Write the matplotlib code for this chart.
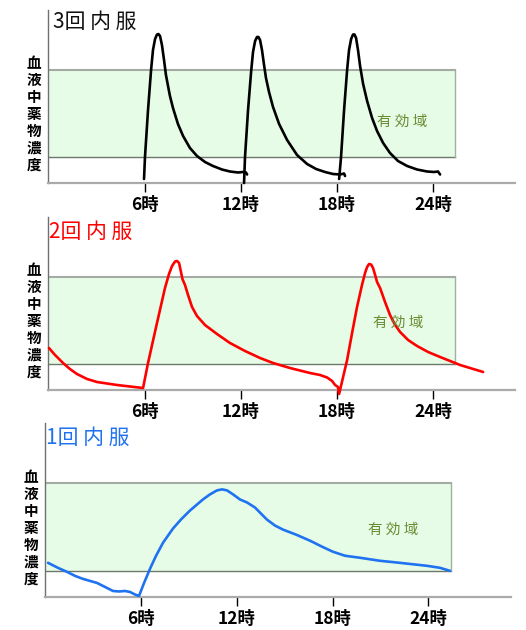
import matplotlib
matplotlib.use("Agg")
import matplotlib.pyplot as plt
from matplotlib.patches import Rectangle

plt.rcParams['font.family'] = ['Noto Sans CJK JP', 'DejaVu Sans']

# ---------------- data ----------------
tick_hours = [6, 12, 18, 24]
tick_labels = ["6時", "12時", "18時", "24時"]
ylabel_text = "血液中薬物濃度"
zone_label = "有 効 域"
band_low = 2.6
band_high = 11.3
band_end = 25.4

titles = ["3回 内 服", "2回 内 服", "1回 内 服"]
colors = ["#000000", "#ff0000", "#1f72f0"]

# 3 doses: separate curves (hours, concentration)
d1_h = [5.94, 6.0, 6.19, 6.38, 6.5, 6.63, 6.75, 6.84, 6.94, 7.06, 7.19, 7.31, 7.44, 7.56, 7.75, 8.06,
        8.38, 8.81, 9.25, 9.75, 10.25, 10.81, 11.31, 11.81, 12.13, 12.31, 12.38]
d1_c = [0.4, 2.6, 7.3, 11.3, 13.3, 14.4, 14.85, 14.9, 14.7, 13.8, 12.3, 10.8, 9.7, 8.7, 7.5, 5.9,
        4.7, 3.5, 2.7, 2.1, 1.7, 1.35, 1.15, 1.05, 1.1, 1.05, 0.85]
d2_h = [12.19, 12.25, 12.44, 12.63, 12.75, 12.88, 13.0, 13.09, 13.19, 13.31, 13.44, 13.56, 13.75, 14.0,
        14.38, 14.88, 15.5, 16.13, 16.69, 17.25, 17.75, 18.19, 18.44, 18.5]
d2_c = [0.0, 2.6, 7.3, 11.1, 13.1, 14.2, 14.6, 14.6, 14.3, 13.3, 11.8, 10.5, 9.1, 7.6,
        5.9, 4.3, 2.8, 1.9, 1.4, 1.1, 0.9, 0.85, 0.95, 0.7]
d3_h = [18.13, 18.25, 18.44, 18.63, 18.75, 18.88, 19.0, 19.09, 19.19, 19.31, 19.44, 19.63, 19.88, 20.19,
        20.5, 20.88, 21.31, 21.81, 22.38, 23.0, 23.63, 24.06, 24.31, 24.44]
d3_c = [0.4, 2.6, 7.3, 11.3, 13.3, 14.4, 14.85, 14.85, 14.5, 13.3, 11.7, 9.9, 8.2, 6.5,
        5.2, 4.0, 3.0, 2.2, 1.7, 1.35, 1.15, 1.1, 1.15, 0.85]

# 2 doses
two_h = [0.0, 0.38, 0.88, 1.31, 1.75, 2.38, 3.0, 4.25, 5.88,
         6.19, 6.75, 7.25, 7.5, 7.69, 7.88, 8.0, 8.13, 8.25, 8.34, 8.5, 8.69, 8.94, 9.25, 9.75,
         10.5, 11.31, 12.25, 13.19, 14.0, 15.06, 16.31, 16.94, 17.38, 17.69, 17.88, 18.06, 18.13,
         18.38, 18.63, 18.94, 19.25, 19.56, 19.75, 19.88, 20.0, 20.13, 20.25, 20.38, 20.5, 20.69,
         21.0, 21.31, 21.63, 21.94, 22.44, 23.0, 23.69, 24.44, 25.69, 27.13]
two_c = [4.2, 3.5, 2.7, 2.1, 1.6, 1.1, 0.8, 0.5, 0.2,
         2.7, 6.7, 10.2, 11.6, 12.4, 12.85, 12.9, 12.7, 11.8, 11.1, 10.5, 9.5, 8.3, 7.4, 6.5,
         5.6, 4.7, 3.9, 3.2, 2.7, 2.2, 1.7, 1.5, 1.25, 0.9, 0.5, 0.3, -0.4,
         1.3, 3.0, 5.7, 8.3, 10.5, 11.7, 12.3, 12.6, 12.55, 12.2, 11.5, 10.8, 10.2,
         8.8, 7.5, 6.5, 5.8, 5.0, 4.4, 3.8, 3.3, 2.5, 1.8]

# 1 dose
one_h = [0.16, 0.78, 1.35, 1.85, 2.35, 3.23, 3.73, 4.23, 4.61, 4.98, 5.3, 5.61, 5.86,
         6.18, 6.55, 6.93, 7.37, 7.99, 8.49, 9.06, 9.87, 10.31, 10.75, 11.07, 11.38, 11.76,
         12.19, 12.63, 13.13, 13.88, 14.39, 14.89, 15.71, 16.58, 17.34, 18.02, 18.78, 19.72,
         20.97, 22.2, 23.92, 24.73, 25.36]
one_c = [3.4, 2.9, 2.5, 2.1, 1.8, 1.4, 1.0, 0.6, 0.55, 0.6, 0.5, 0.25, 0.1,
         1.4, 2.8, 4.1, 5.4, 6.8, 7.7, 8.6, 9.7, 10.2, 10.6, 10.7, 10.6, 10.2,
         9.7, 9.4, 8.9, 7.7, 7.1, 6.7, 6.2, 5.6, 5.0, 4.5, 4.1, 3.9,
         3.6, 3.4, 3.1, 2.9, 2.6]

# ---------------- layout ----------------
W, H = 526, 630
fig = plt.figure(figsize=(W / 100, H / 100), dpi=100)

# pixel boxes: left, right, top, bottom
boxes = [(48, 515, 10, 183), (48, 515, 217, 390), (45, 511, 423, 597)]
xlims = [(-0.06, 29.12), (-0.06, 29.12), (-0.03, 29.18)]
title_pos = [(53, 22), (49, 232), (46, 438)]
ylab_pos = [(34, 114), (34, 321), (31, 528)]
zone_pos = [(22.06, 6.1), (21.8, 6.7), (21.8, 6.7)]

series = [
    [(d1_h, d1_c), (d2_h, d2_c), (d3_h, d3_c)],
    [(two_h, two_c)],
    [(one_h, one_c)],
]

for i in range(3):
    l, r, t, b = boxes[i]
    ax = fig.add_axes([l / W, 1 - b / H, (r - l) / W, (b - t) / H])
    ax.set_xlim(*xlims[i])
    ax.set_ylim(0, 17.3)
    ax.patch.set_alpha(0)

    # effective zone band
    ax.add_patch(Rectangle((0, band_low), band_end, band_high - band_low,
                           facecolor="#e6fce6", edgecolor="none", zorder=1))
    ax.plot([0, band_end], [band_high, band_high], color="#a4aba4", lw=1.5, zorder=2)
    ax.plot([0, band_end], [band_low, band_low], color="#6c786c", lw=1.0, zorder=2)
    ax.plot([band_end, band_end], [band_low, band_high], color="#a0b0a0", lw=1.0, zorder=2)

    for hx, cy in series[i]:
        ax.plot(hx, cy, color=colors[i], lw=1.9, zorder=3, clip_on=False,
                solid_joinstyle="round", solid_capstyle="round")

    ax.text(zone_pos[i][0], zone_pos[i][1], zone_label, color="#6a8a30",
            fontsize=10.5, ha="center", va="center", zorder=4)

    for s in ["top", "right"]:
        ax.spines[s].set_visible(False)
    ax.spines["left"].set_color("#707070")
    ax.spines["left"].set_linewidth(1.0)
    ax.spines["bottom"].set_color("#aaaaaa")
    ax.spines["bottom"].set_linewidth(1.6)

    ax.set_yticks([])
    ax.set_xticks(tick_hours)
    ax.set_xticklabels(tick_labels, fontsize=12.5, fontweight="bold")
    ax.tick_params(axis="x", direction="out", length=6.5, width=1.0, color="black", pad=2.5)

    tx, ty = title_pos[i]
    fig.text(tx / W, 1 - ty / H, titles[i], color=colors[i] if i else "#111111",
             fontsize=15, ha="left", va="center")

    yx, yy = ylab_pos[i]
    fig.text(yx / W, 1 - yy / H, "\n".join(ylabel_text), fontsize=10.5,
             fontweight="bold", ha="center", va="center", linespacing=1.07)

fig.savefig("out.png", dpi=100)
